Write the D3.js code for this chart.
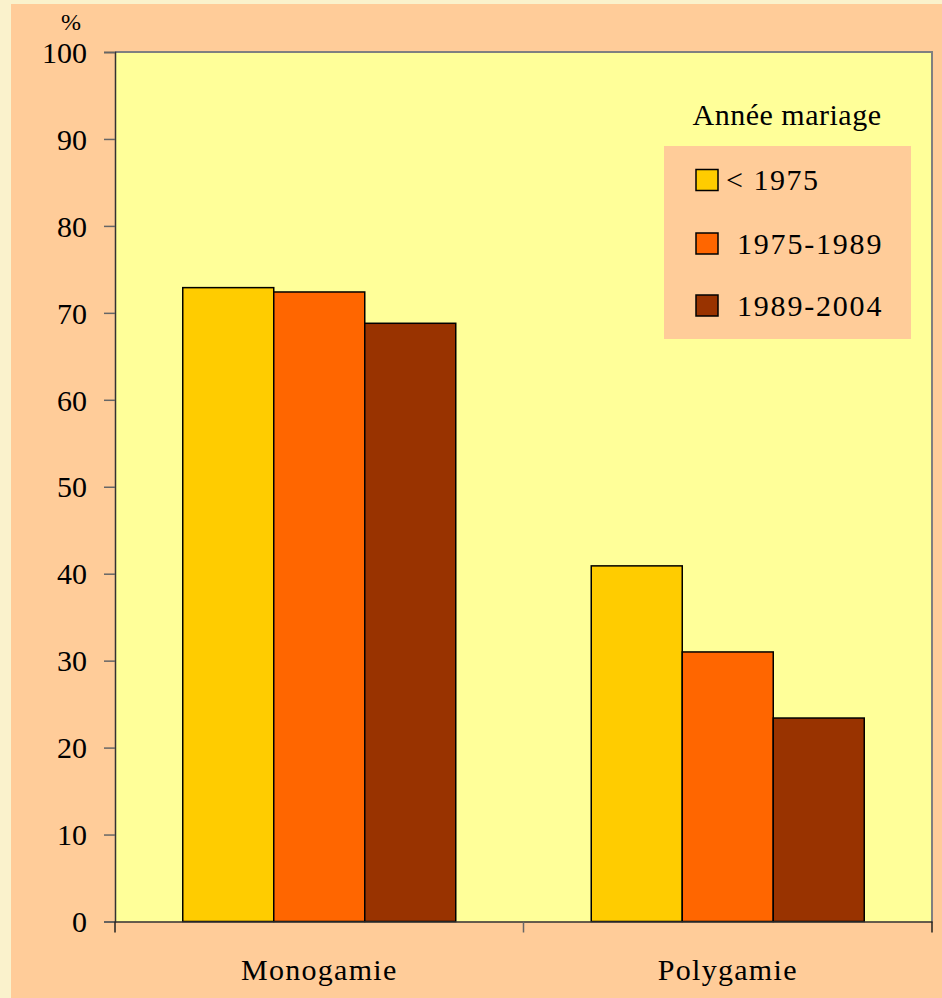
<!DOCTYPE html>
<html><head><meta charset="utf-8">
<script src="https://cdn.jsdelivr.net/npm/d3@7"></script>
<style>html,body{margin:0;padding:0;background:#FAF2CC;}svg{display:block;}
svg text{font-family:"Liberation Serif","Times New Roman",Tinos,Times,"DejaVu Serif",serif;}</style>
</head><body>
<script>
const categories = ["Monogamie", "Polygamie"];
const seriesNames = ["< 1975", "1975-1989", "1989-2004"];
const seriesColors = ["#FFCC00", "#FF6600", "#993300"];
const valuesBefore1975 = [72.9, 40.9];
const values1975_1989 = [72.4, 31.0];
const values1989_2004 = [68.8, 23.4];
const yTicks = [0, 10, 20, 30, 40, 50, 60, 70, 80, 90, 100];
const legendTitle = "Année mariage";
const yUnit = "%";

const series = [valuesBefore1975, values1975_1989, values1989_2004];
const W = 942, H = 998;
const svg = d3.select("body").append("svg").attr("width", W).attr("height", H);
svg.append("rect").attr("x", 0).attr("y", 0).attr("width", W).attr("height", H).attr("fill", "#FAF2CC");
svg.append("rect").attr("x", 11).attr("y", 4).attr("width", W - 11).attr("height", H - 4).attr("fill", "#FFCC99");

const L = 115, R = 932, T = 52, B = 921.5;
const x = d3.scaleBand().domain(categories).range([L, R]);
const y = d3.scaleLinear().domain([0, 100]).range([B, T]);
const barW = 91;
const xs = d3.scaleBand().domain(d3.range(series.length)).range([0, barW * 3]).padding(0);

svg.append("rect").attr("x", L).attr("y", T).attr("width", R - L).attr("height", B - T)
  .attr("fill", "#FFFF99");
svg.append("path").attr("d", `M${L},${T}H${R}V${B}`).attr("fill", "none")
  .attr("stroke", "#808080").attr("stroke-width", 2);

categories.forEach((c, ci) => {
  const x0 = x(c) + x.bandwidth() / 2 - barW * 1.5;
  series.forEach((s, si) => {
    svg.append("rect")
      .attr("x", x0 + xs(si)).attr("y", y(s[ci]))
      .attr("width", xs.bandwidth()).attr("height", y(0) - y(s[ci]))
      .attr("fill", seriesColors[si]).attr("stroke", "#000").attr("stroke-width", 1.5);
  });
});

const yAxis = d3.axisLeft(y).tickValues(yTicks).tickSize(11).tickPadding(17).tickFormat(d3.format("d"));
const ya = svg.append("g").attr("transform", `translate(${L},0)`).call(yAxis);
ya.attr("font-family", null);
ya.select(".domain").attr("stroke", "#333").attr("stroke-width", 1.5);
ya.selectAll(".tick line").attr("stroke", "#666").attr("stroke-width", 1.5);
ya.selectAll(".tick text").attr("font-size", 30).attr("fill", "#000").attr("dy", "0.34em");

const xAxis = d3.axisBottom(x).tickValues([]).tickSize(0);
const xa = svg.append("g").attr("transform", `translate(0,${B})`).call(xAxis);
xa.select(".domain").attr("stroke", "#333").attr("stroke-width", 1.5);
const bounds = [L, x(categories[1]), R];
bounds.forEach(bx => {
  svg.append("line").attr("x1", bx).attr("x2", bx).attr("y1", B).attr("y2", B + 11)
    .attr("stroke", bx === L || bx === R ? "#222" : "#666").attr("stroke-width", 1.5);
});
categories.forEach(c => {
  svg.append("text").attr("x", x(c) + x.bandwidth() / 2).attr("y", 980)
    .attr("text-anchor", "middle").attr("font-size", 30)
    .attr("letter-spacing", 1.3).text(c);
});

svg.append("text").attr("x", 71).attr("y", 30).attr("text-anchor", "middle")
  .attr("font-size", 24).text(yUnit);

svg.append("text").attr("x", 787).attr("y", 125).attr("text-anchor", "middle")
  .attr("font-size", 30).attr("letter-spacing", 0.5).text(legendTitle);
svg.append("rect").attr("x", 664).attr("y", 146).attr("width", 247).attr("height", 193).attr("fill", "#FFCC99");
const legY = [180, 243.5, 305.5];
seriesNames.forEach((n, i) => {
  svg.append("rect").attr("x", 696).attr("y", legY[i] - 10.5).attr("width", 22).attr("height", 21)
    .attr("fill", seriesColors[i]).attr("stroke", "#000").attr("stroke-width", 1.5);
  svg.append("text").attr("x", i === 0 ? 726 : 737).attr("y", legY[i] + 10)
    .attr("font-size", 30).attr("letter-spacing", i === 0 ? 1.5 : 1.8).text(n);
});
</script>
</body></html>
